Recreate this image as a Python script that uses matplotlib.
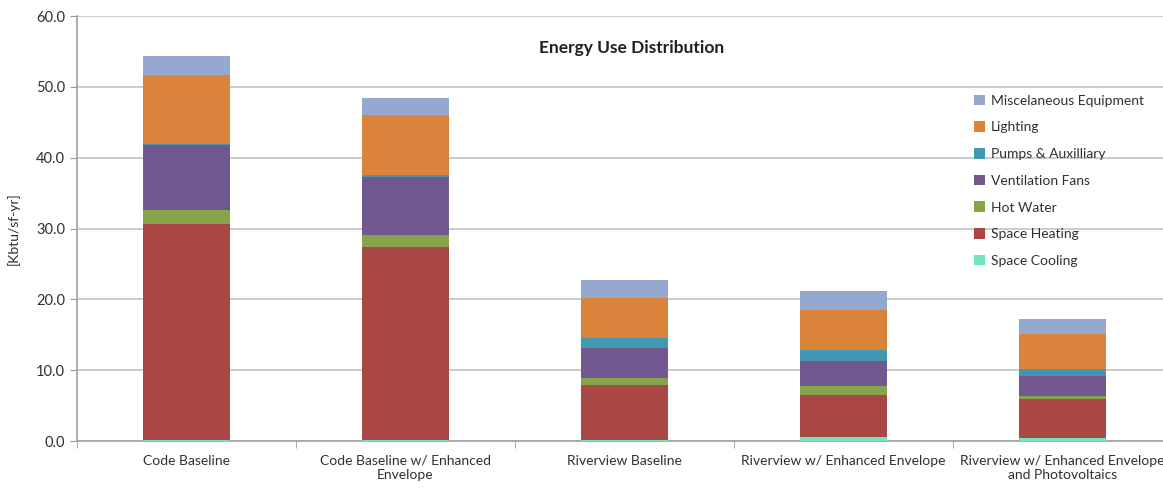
import numpy as np
import matplotlib.pyplot as plt

plt.rcParams['font.family'] = ['Lato', 'DejaVu Sans']

cases = ['Code Baseline', 'Code Baseline w/ Enhanced\nEnvelope', 'Riverview Baseline',
         'Riverview w/ Enhanced Envelope', 'Riverview w/ Enhanced Envelope\nand Photovoltaics']

# end uses, bottom of the stack first
space_cooling = [0.1, 0.1, 0.2, 0.5, 0.4]
space_heating = [30.6, 27.3, 7.7, 6.0, 5.5]
hot_water = [1.9, 1.7, 1.0, 1.2, 0.5]
ventilation_fans = [9.2, 8.2, 4.3, 3.6, 2.8]
pumps_aux = [0.2, 0.2, 1.4, 1.6, 1.0]
lighting = [9.7, 8.6, 5.6, 5.6, 4.9]
misc_equipment = [2.7, 2.4, 2.6, 2.7, 2.1]

series = [
    ('Space Cooling', space_cooling, '#6fe6bd'),
    ('Space Heating', space_heating, '#a84743'),
    ('Hot Water', hot_water, '#88a44b'),
    ('Ventilation Fans', ventilation_fans, '#72588f'),
    ('Pumps & Auxilliary', pumps_aux, '#4298b0'),
    ('Lighting', lighting, '#da833b'),
    ('Miscelaneous Equipment', misc_equipment, '#95a9d0'),
]

fig = plt.figure(figsize=(11.63, 4.9), dpi=100)
ax = fig.add_axes([0.0662, 0.1, 0.9415, 0.867])

x = np.arange(len(cases))
bottom = np.zeros(len(cases))
handles = []
for name, vals, col in series:
    b = ax.bar(x, vals, 0.4, bottom=bottom, color=col, label=name, zorder=3)
    handles.append(b)
    bottom += np.array(vals)

ax.set_xlim(-0.5, len(cases) - 0.5)
ax.set_ylim(0, 60)
ax.set_yticks(np.arange(0, 61, 10))
ax.set_yticklabels(['%.1f' % v for v in np.arange(0, 61, 10)], fontsize=10.5, color='#303030')
ax.grid(axis='y', color='#c4c4c4', lw=1.2, zorder=0)

# category labels centred, tick marks on the boundaries
ax.set_xticks(x)
ax.set_xticklabels(cases, fontsize=10, color='#303030')
ax.tick_params(axis='x', length=0, pad=10)
ax.set_xticks(np.arange(-0.5, len(cases), 1), minor=True)
ax.tick_params(axis='x', which='minor', length=5, color='#999999')
ax.tick_params(axis='y', length=5, color='#999999')

for s in ['top', 'right']:
    ax.spines[s].set_visible(False)
for s in ['left', 'bottom']:
    ax.spines[s].set_color('#a0a0a0')
    ax.spines[s].set_linewidth(1.2)

ax.set_ylabel('[Kbtu/sf-yr]', fontsize=10, color='#303030', labelpad=12)

fig.text(632 / 1163, 1 - 48 / 490, 'Energy Use Distribution', ha='center', va='center',
         fontsize=12.5, fontweight='bold', color='#202020')

leg = ax.legend(handles[::-1], [s[0] for s in series][::-1], loc='upper left',
                bbox_to_anchor=(0.808, 0.845), frameon=False, fontsize=10,
                handlelength=0.8, handleheight=0.8, handletextpad=0.4, labelspacing=1.05)
for t in leg.get_texts():
    t.set_color('#303030')

fig.savefig('out.png', dpi=100)
